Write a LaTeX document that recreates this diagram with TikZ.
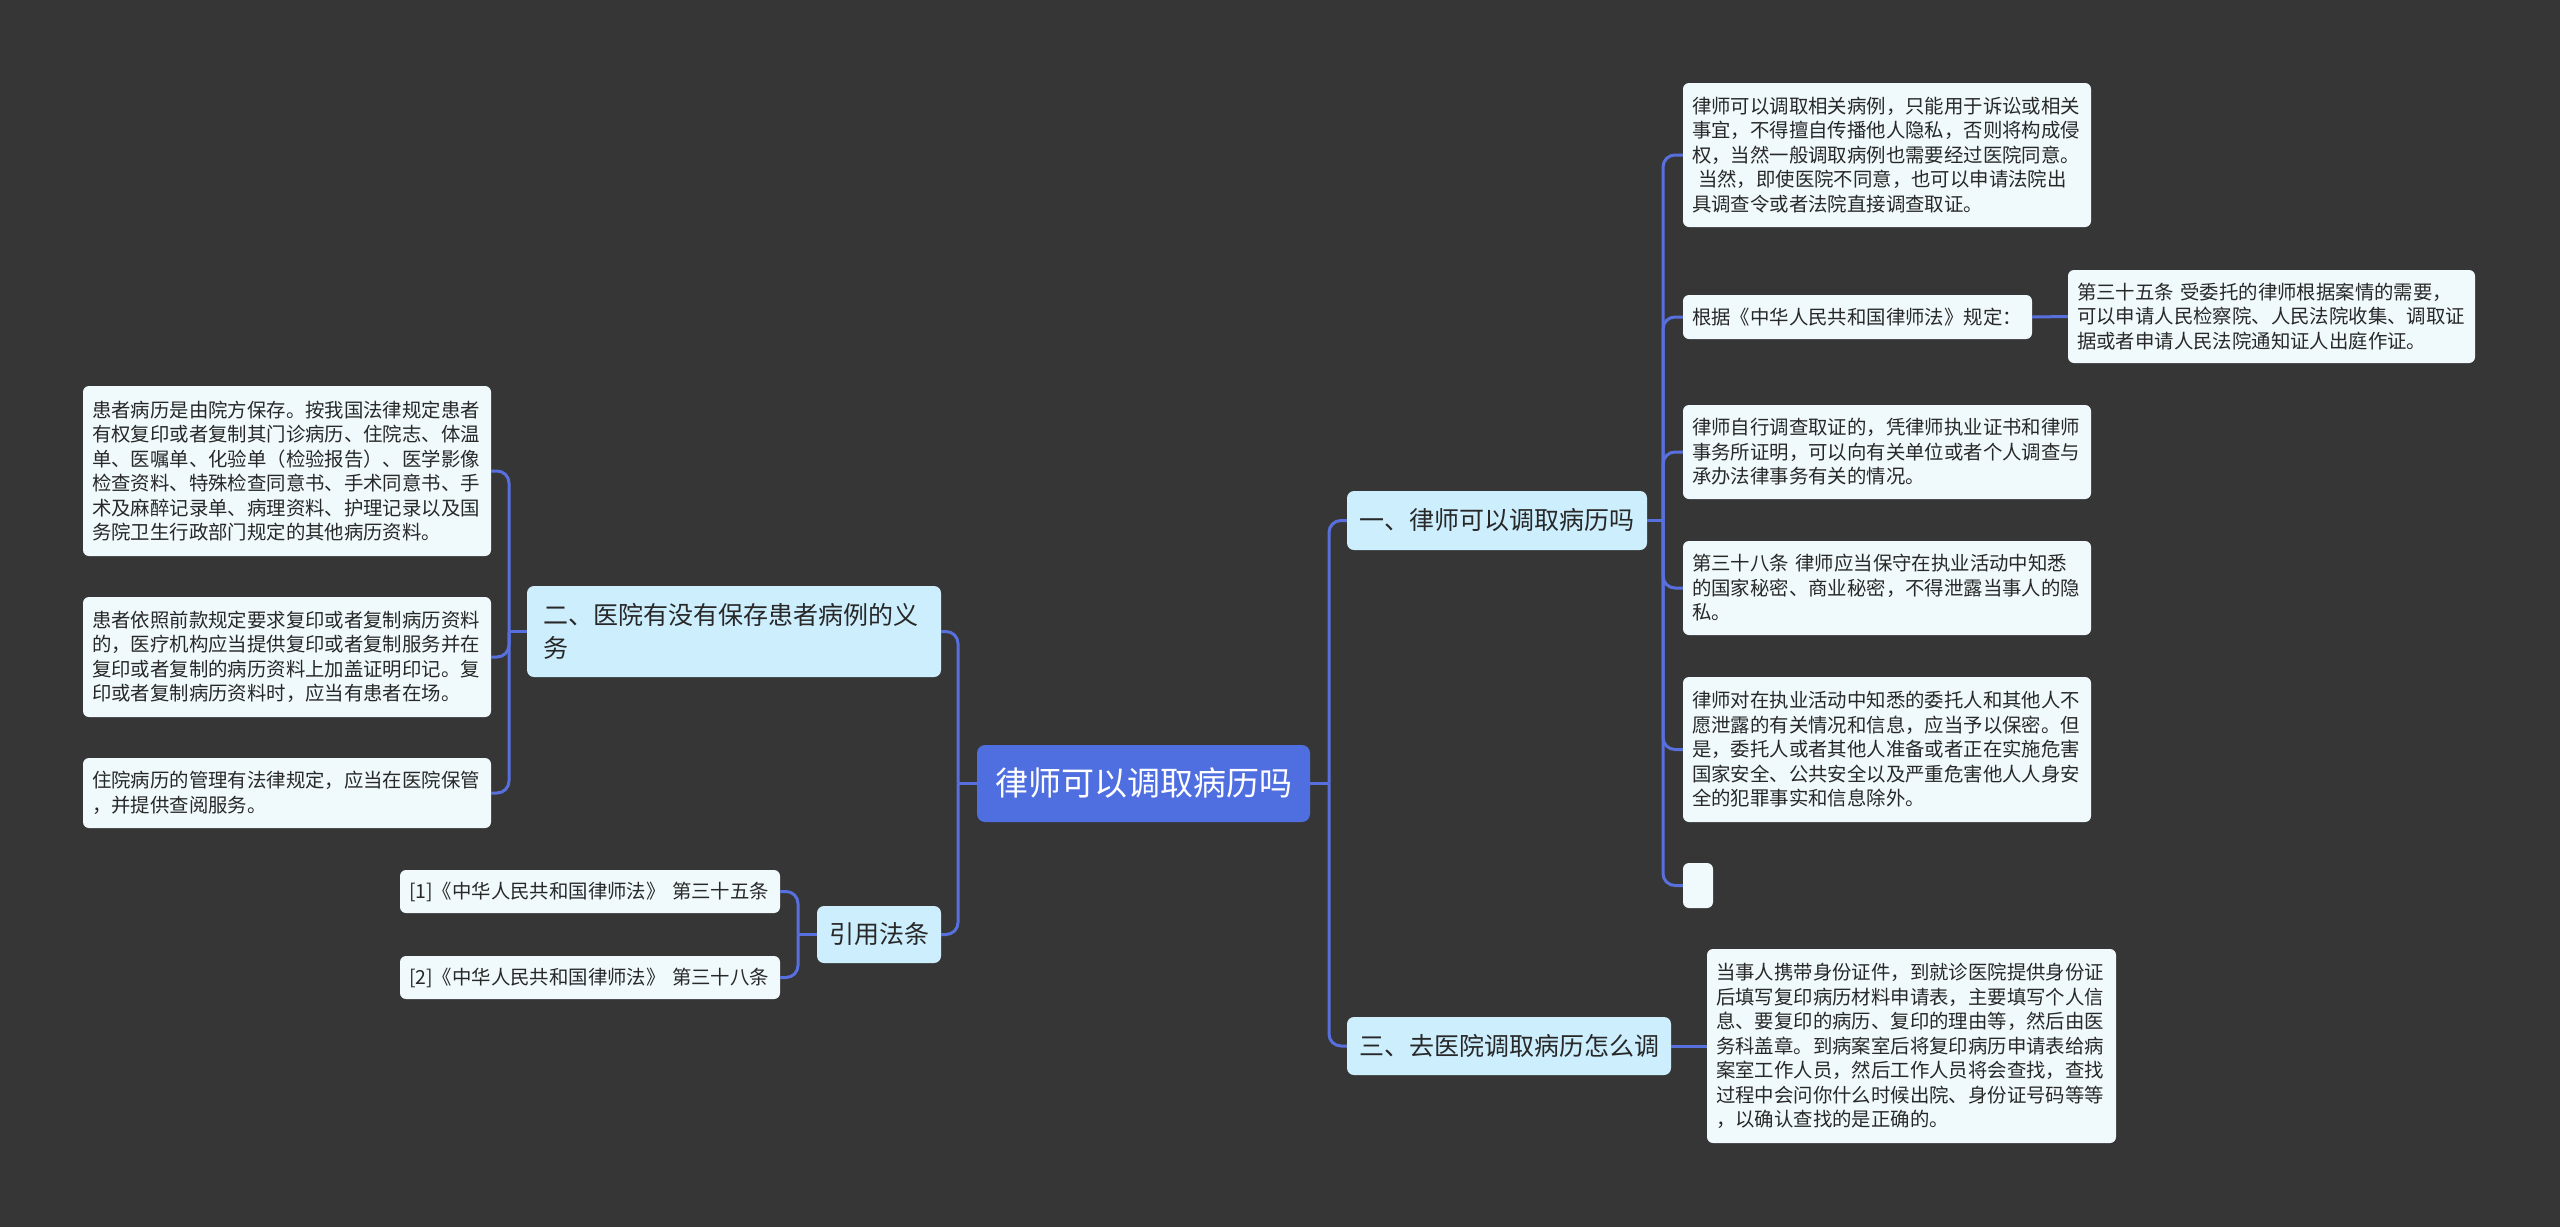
\documentclass[tikz,border=0pt]{standalone}
\usepackage{fontspec}
\newfontfamily\cjk{Noto Sans CJK SC}
\definecolor{bgc}{RGB}{54,54,55}
\definecolor{leafc}{RGB}{240,250,252}
\definecolor{branchc}{RGB}{204,238,253}
\definecolor{rootc}{RGB}{79,110,224}
\definecolor{linec}{RGB}{88,112,222}
\definecolor{txt}{RGB}{40,40,40}
\begin{document}
\begin{tikzpicture}[x=1pt,y=-1pt,
  leaf/.style={fill=leafc, rounded corners=6pt, text=txt, font=\cjk\fontsize{19.4}{24.5}\selectfont, align=left, inner xsep=9pt, inner ysep=0pt},
  branch/.style={fill=branchc, rounded corners=7pt, text=txt, font=\cjk\fontsize{25}{33.3}\selectfont, inner xsep=6pt, inner ysep=0pt},
  rootbox/.style={fill=rootc, rounded corners=8pt, text=white, font=\cjk\fontsize{33}{40}\selectfont, inner sep=0pt},
  conn/.style={draw=linec, line width=3pt, rounded corners=12pt}]
\useasboundingbox (0,0) rectangle (2560,1227);
\fill[bgc] (0,0) rectangle (2560,1227);

% root and branches
\node[rootbox, minimum width=333pt, minimum height=77pt] (root) at (1143.5,783.5) {律师可以调取病历吗};
\node[branch, minimum width=300pt, minimum height=59pt] (b1) at (1497,520.5) {一、律师可以调取病历吗};
\node[branch, minimum width=324pt, minimum height=58pt] (b3) at (1509,1046) {三、去医院调取病历怎么调};
\node[branch, align=left, text width=382pt, inner xsep=16pt, minimum height=91pt] (b2) at (734,631.5) {二、医院有没有保存患者病例的义\\务};
\node[branch, minimum width=124pt, minimum height=57pt] (b4) at (879,934.5) {引用法条};

% right leaves
\node[leaf, text width=390pt, minimum height=144pt] (r1) at (1887,155) {律师可以调取相关病例，只能用于诉讼或相关\\事宜，不得擅自传播他人隐私，否则将构成侵\\权，当然一般调取病例也需要经过医院同意。\\\hspace*{6pt}当然，即使医院不同意，也可以申请法院出\\具调查令或者法院直接调查取证。};
\node[leaf, text width=331pt, minimum height=44pt] (r2) at (1857.5,317) {根据《中华人民共和国律师法》规定：};
\node[leaf, text width=389pt, minimum height=93pt] (r2a) at (2271.5,316.5) {第三十五条~受委托的律师根据案情的需要，\\可以申请人民检察院、人民法院收集、调取证\\据或者申请人民法院通知证人出庭作证。};
\node[leaf, text width=390pt, minimum height=94pt] (r3) at (1887,452) {律师自行调查取证的，凭律师执业证书和律师\\事务所证明，可以向有关单位或者个人调查与\\承办法律事务有关的情况。};
\node[leaf, text width=390pt, minimum height=94pt] (r4) at (1887,588) {第三十八条~律师应当保守在执业活动中知悉\\的国家秘密、商业秘密，不得泄露当事人的隐\\私。};
\node[leaf, text width=390pt, minimum height=145pt] (r5) at (1887,749.5) {律师对在执业活动中知悉的委托人和其他人不\\愿泄露的有关情况和信息，应当予以保密。但\\是，委托人或者其他人准备或者正在实施危害\\国家安全、公共安全以及严重危害他人人身安\\全的犯罪事实和信息除外。};
\node[leaf, inner sep=0pt, minimum width=30pt, minimum height=45pt] (r6) at (1698,885.5) {};
\node[leaf, text width=391pt, minimum height=194pt] (r7) at (1911.5,1046) {当事人携带身份证件，到就诊医院提供身份证\\后填写复印病历材料申请表，主要填写个人信\\息、要复印的病历、复印的理由等，然后由医\\务科盖章。到病案室后将复印病历申请表给病\\案室工作人员，然后工作人员将会查找，查找\\过程中会问你什么时候出院、身份证号码等等\\，以确认查找的是正确的。};

% left leaves
\node[leaf, text width=390pt, minimum height=170pt] (l1) at (287,471) {患者病历是由院方保存。按我国法律规定患者\\有权复印或者复制其门诊病历、住院志、体温\\单、医嘱单、化验单（检验报告）、医学影像\\检查资料、特殊检查同意书、手术同意书、手\\术及麻醉记录单、病理资料、护理记录以及国\\务院卫生行政部门规定的其他病历资料。};
\node[leaf, text width=390pt, minimum height=120pt] (l2) at (287,657) {患者依照前款规定要求复印或者复制病历资料\\的，医疗机构应当提供复印或者复制服务并在\\复印或者复制的病历资料上加盖证明印记。复\\印或者复制病历资料时，应当有患者在场。};
\node[leaf, text width=390pt, minimum height=70pt] (l3) at (287,793) {住院病历的管理有法律规定，应当在医院保管\\，并提供查阅服务。};
\node[leaf, text width=362pt, minimum height=43pt] (f1) at (590,891.5) {[1]《中华人民共和国律师法》~第三十五条};
\node[leaf, text width=362pt, minimum height=43pt] (f2) at (590,977.5) {[2]《中华人民共和国律师法》~第三十八条};

% junction coordinates
\coordinate (jR) at (1329,783.5);
\coordinate (jL) at (958,783.5);
\coordinate (j1) at (1663,520.5);
\coordinate (j2) at (509,631.5);
\coordinate (j4) at (798,934.5);

% connectors
\draw[conn] (root.east) -- (jR);
\draw[conn] (jR) |- (b1.west);
\draw[conn] (jR) |- (b3.west);
\draw[conn] (root.west) -- (jL);
\draw[conn] (jL) |- (b2.east);
\draw[conn] (jL) |- (b4.east);

\draw[conn] (b1.east) -- (j1);
\draw[conn] (j1) |- (r1.west);
\draw[conn] (j1) |- (r2.west);
\draw[conn] (j1) |- (r3.west);
\draw[conn] (j1) |- (r4.west);
\draw[conn] (j1) |- (r5.west);
\draw[conn] (j1) |- (r6.west);
\draw[conn] (r2.east) -- (r2a.west);
\draw[conn] (b3.east) -- (r7.west);

\draw[conn] (b2.west) -- (j2);
\draw[conn] (j2) |- (l1.east);
\draw[conn] (j2) |- (l2.east);
\draw[conn] (j2) |- (l3.east);

\draw[conn] (b4.west) -- (j4);
\draw[conn] (j4) |- (f1.east);
\draw[conn] (j4) |- (f2.east);
\end{tikzpicture}
\end{document}
